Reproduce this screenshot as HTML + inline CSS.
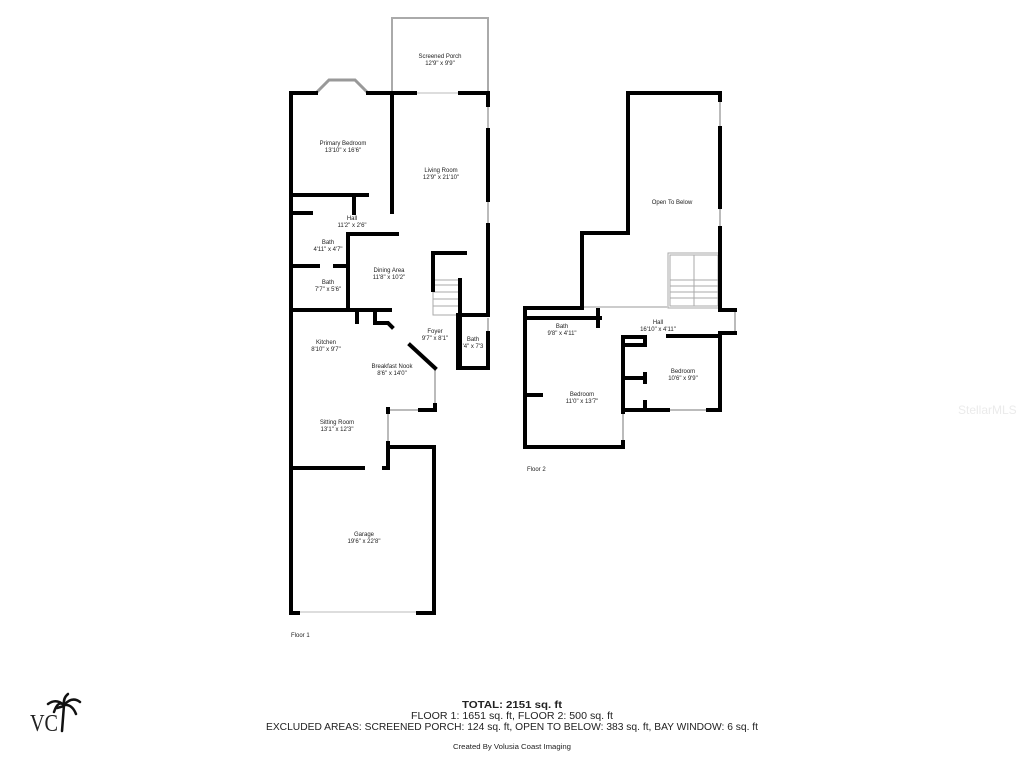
<!DOCTYPE html>
<html><head><meta charset="utf-8"><style>
html,body{margin:0;padding:0;background:#fff;}
svg{display:block;}
text{font-family:"Liberation Sans",Verdana,sans-serif;fill:#222;}
.l{font-size:6px;text-anchor:middle;}
</style></head><body>
<svg width="1024" height="768" viewBox="0 0 1024 768" xmlns="http://www.w3.org/2000/svg">
<g stroke="#bbb" stroke-width="2" fill="none">
<rect x="392" y="18" width="96" height="75" stroke="#aaa" stroke-width="2"/>
<polyline points="316,93 329,80 355,80 368,93" stroke="#999" stroke-width="3"/>
<line x1="488" y1="105" x2="488" y2="130"/><line x1="488" y1="200" x2="488" y2="225"/>
<line x1="415" y1="93" x2="460" y2="93" stroke="#ddd"/>
<line x1="435" y1="370" x2="435" y2="405"/><line x1="390" y1="410" x2="418" y2="410"/>
<line x1="388" y1="413" x2="388" y2="442"/><line x1="488" y1="318" x2="488" y2="333"/>
<line x1="298" y1="612" x2="418" y2="612" stroke="#ddd"/>
<line x1="720" y1="100" x2="720" y2="128"/><line x1="720" y1="207" x2="720" y2="228"/>
<line x1="735" y1="312" x2="735" y2="332"/>
<line x1="623" y1="412" x2="623" y2="442"/><line x1="668" y1="410" x2="708" y2="410"/>
</g>
<g stroke="#aaa" stroke-width="1" fill="none">
<rect x="433" y="280" width="27" height="35"/>
<line x1="433" y1="285" x2="460" y2="285"/><line x1="433" y1="292" x2="460" y2="292"/><line x1="433" y1="299" x2="460" y2="299"/><line x1="433" y1="306" x2="460" y2="306"/>
<rect x="668" y="253" width="52" height="55"/><rect x="670" y="255" width="48" height="51"/>
<line x1="694" y1="255" x2="694" y2="306"/>
<line x1="670" y1="280" x2="694" y2="280"/><line x1="670" y1="286" x2="694" y2="286"/><line x1="670" y1="292" x2="694" y2="292"/><line x1="670" y1="298" x2="694" y2="298"/>
<line x1="694" y1="280" x2="718" y2="280"/><line x1="694" y1="286" x2="718" y2="286"/><line x1="694" y1="292" x2="718" y2="292"/><line x1="694" y1="298" x2="718" y2="298"/>
<line x1="582" y1="307" x2="668" y2="307" stroke="#ccc" stroke-width="2"/>
</g>
<g stroke="#000" stroke-width="4" fill="none" stroke-linecap="square">
<polyline points="316,93 291,93 291,613 298,613"/>
<line x1="368" y1="93" x2="415" y2="93"/>
<polyline points="460,93 488,93 488,105"/>
<line x1="488" y1="130" x2="488" y2="200"/>
<line x1="488" y1="225" x2="488" y2="312"/>
<polyline points="488,333 488,368 458,368 458,315 488,315"/>
<line x1="392" y1="93" x2="392" y2="212"/>
<polyline points="291,195 367,195"/><line x1="354" y1="195" x2="354" y2="213"/>
<line x1="291" y1="213" x2="311" y2="213"/>
<polyline points="397,234 348,234 348,310"/>
<line x1="291" y1="266" x2="318" y2="266"/><line x1="335" y1="266" x2="347" y2="266"/>
<line x1="291" y1="310" x2="390" y2="310"/>
<polyline points="357,310 357,322"/>
<polyline points="375,310 375,323 388,323 392,327"/>
<line x1="410" y1="345" x2="435" y2="368"/>
<line x1="435" y1="405" x2="435" y2="410"/><line x1="435" y1="410" x2="420" y2="410"/>
<line x1="388" y1="409" x2="388" y2="412"/>
<polyline points="388,443 388,468 384,468"/>
<line x1="291" y1="468" x2="363" y2="468"/>
<polyline points="388,447 434,447 434,613 418,613"/>
<polyline points="433,290 433,253 465,253"/>
<line x1="460" y1="280" x2="460" y2="368"/>
<polyline points="582,307 582,233 628,233 628,93 720,93 720,100"/>
<line x1="720" y1="128" x2="720" y2="207"/>
<polyline points="720,228 720,310 735,310"/>
<polyline points="735,333 720,333 720,410 708,410"/>
<line x1="668" y1="336" x2="720" y2="336"/>
<polyline points="525,308 582,308"/>
<polyline points="525,308 525,447 623,447 623,442"/>
<polyline points="623,412 623,337 645,337 645,345"/>
<line x1="525" y1="318" x2="600" y2="318"/>
<line x1="598" y1="310" x2="598" y2="326"/>
<line x1="623" y1="345" x2="645" y2="345"/>
<line x1="623" y1="378" x2="645" y2="378"/>
<line x1="645" y1="374" x2="645" y2="382"/>
<line x1="645" y1="402" x2="645" y2="410"/>
<line x1="623" y1="410" x2="668" y2="410"/>
<line x1="525" y1="395" x2="541" y2="395"/>
</g>
<g class="l">
<text x="440" y="58">Screened Porch</text><text x="440" y="65">12'9" x 9'9"</text>
<text x="343" y="145">Primary Bedroom</text><text x="343" y="152">13'10" x 16'6"</text>
<text x="441" y="172">Living Room</text><text x="441" y="179">12'9" x 21'10"</text>
<text x="352" y="220">Hall</text><text x="352" y="227">11'2" x 2'6"</text>
<text x="328" y="244">Bath</text><text x="328" y="251">4'11" x 4'7"</text>
<text x="328" y="284">Bath</text><text x="328" y="291">7'7" x 5'6"</text>
<text x="389" y="272">Dining Area</text><text x="389" y="279">11'8" x 10'2"</text>
<text x="435" y="333">Foyer</text><text x="435" y="340">9'7" x 8'1"</text>
<text x="473" y="341">Bath</text><text x="473" y="348">'4" x 7'3</text>
<text x="326" y="344">Kitchen</text><text x="326" y="351">8'10" x 9'7"</text>
<text x="392" y="368">Breakfast Nook</text><text x="392" y="375">8'6" x 14'0"</text>
<text x="337" y="424">Sitting Room</text><text x="337" y="431">13'1" x 12'3"</text>
<text x="364" y="536">Garage</text><text x="364" y="543">19'6" x 22'8"</text>
<text x="672" y="204">Open To Below</text>
<text x="562" y="328">Bath</text><text x="562" y="335">9'8" x 4'11"</text>
<text x="658" y="324">Hall</text><text x="658" y="331">16'10" x 4'11"</text>
<text x="683" y="373">Bedroom</text><text x="683" y="380">10'6" x 9'9"</text>
<text x="582" y="396">Bedroom</text><text x="582" y="403">11'0" x 13'7"</text>
</g>
<text x="291" y="637" font-size="6">Floor 1</text>
<text x="527" y="471" font-size="6">Floor 2</text>
<text x="462" y="708" font-size="10" font-weight="bold" textLength="100" lengthAdjust="spacingAndGlyphs">TOTAL: 2151 sq. ft</text>
<text x="411" y="719" font-size="10" textLength="202" lengthAdjust="spacingAndGlyphs">FLOOR 1: 1651 sq. ft, FLOOR 2: 500 sq. ft</text>
<text x="266" y="730" font-size="10" textLength="492" lengthAdjust="spacingAndGlyphs">EXCLUDED AREAS: SCREENED PORCH: 124 sq. ft, OPEN TO BELOW: 383 sq. ft, BAY WINDOW: 6 sq. ft</text>
<text x="453" y="749" font-size="7" textLength="118" lengthAdjust="spacingAndGlyphs">Created By Volusia Coast Imaging</text>
<text x="30" y="731" font-size="24" textLength="28" lengthAdjust="spacingAndGlyphs" style="font-family:'Liberation Serif',serif">VC</text>
<g stroke="#111" stroke-width="2.5" fill="none" stroke-linecap="round">
<line x1="62" y1="731" x2="64" y2="705"/>
<line x1="57" y1="708" x2="64" y2="706"/>
<path d="M64 705 Q56 698 48 704"/><path d="M64 705 Q72 696 80 702"/><path d="M64 705 Q58 700 54 712"/><path d="M64 705 Q72 704 76 714"/><path d="M64 705 Q63 698 68 694"/>
</g>
<text x="958" y="414" font-size="12" style="fill:#ebebeb">StellarMLS</text>
</svg>
</body></html>
